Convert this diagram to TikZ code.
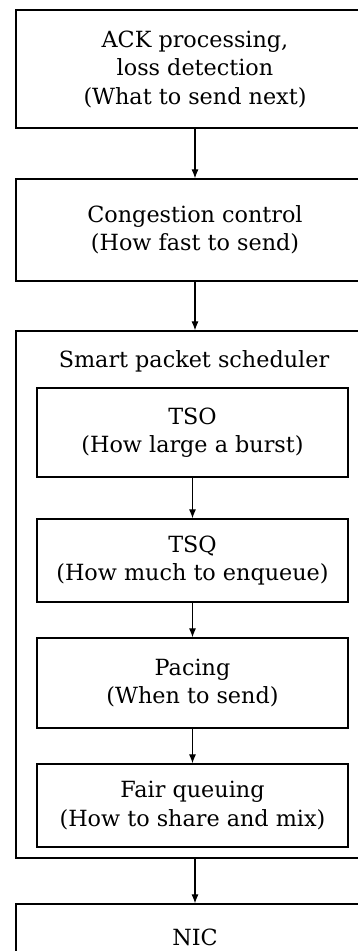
\documentclass[tikz,border=0pt]{standalone}
\usepackage{fontspec}
\setmainfont{DejaVu Serif}
\usetikzlibrary{arrows.meta}
\begin{document}
\begin{tikzpicture}[x=1pt,y=-1pt,
  outerbox/.style={draw, line width=1.2pt, rectangle, minimum width=358pt, inner sep=0pt, align=center},
  innerbox/.style={draw, line width=1.2pt, rectangle, minimum width=311pt, inner sep=0pt, align=center},
  flow/.style={line width=1.1pt, -{Latex[length=9pt,width=7pt]}},
  lbl/.style={font=\fontsize{22.3}{28.5}\selectfont}]
\useasboundingbox (0,0) rectangle (358,951);
\clip (0,0) rectangle (358,951);
\node[outerbox, minimum height=118pt, lbl] (ack) at (195,69) {ACK processing,\\loss detection\\(What to send next)};
\node[outerbox, minimum height=102pt, lbl] (cc) at (195,230) {Congestion control\\(How fast to send)};
\node[outerbox, minimum height=527pt] (sched) at (195,594.5) {};
\node[lbl] (title) at (194,361) {Smart packet scheduler};
\node[innerbox, minimum height=89pt, lbl] (tso) at (192.5,432.5) {TSO\\(How large a burst)};
\node[innerbox, minimum height=83pt, lbl] (tsq) at (192.5,560.5) {TSQ\\(How much to enqueue)};
\node[innerbox, minimum height=90pt, lbl] (pacing) at (192.5,683) {Pacing\\(When to send)};
\node[innerbox, minimum height=83pt, lbl] (fq) at (192.5,805.5) {Fair queuing\\(How to share and mix)};
\node[outerbox, minimum height=66pt, lbl] (nic) at (195,937) {NIC};
\draw[flow] (ack) -- (cc);
\draw[flow] (cc) -- (sched);
\draw[flow] (tso) -- (tsq);
\draw[flow] (tsq) -- (pacing);
\draw[flow] (pacing) -- (fq);
\draw[flow] (sched) -- (nic);
\end{tikzpicture}
\end{document}
